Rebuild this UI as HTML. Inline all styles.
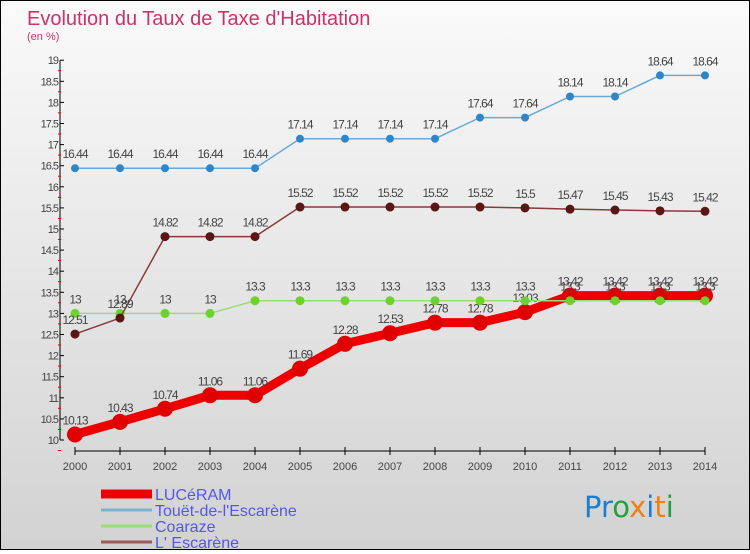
<!DOCTYPE html>
<html><head><meta charset="utf-8"><style>
html,body{margin:0;padding:0}
body{width:750px;height:550px;overflow:hidden;font-family:"Liberation Sans","DejaVu Sans",sans-serif}
#wrap{position:absolute;left:0;top:0;width:748px;height:548px;border:1px solid #000;background:linear-gradient(#fafafa,#d2d2d2)}
</style></head><body>
<div id="wrap">
<svg id="chart" width="748" height="548" xmlns="http://www.w3.org/2000/svg">
<text x="26" y="24" font-size="20" fill="#c8336a" font-family="Liberation Sans, sans-serif">Evolution du Taux de Taxe d'Habitation</text>
<text x="26" y="39" font-size="11" fill="#c8336a">(en %)</text>
<g id="axes"></g><g id="series"></g><g id="legend"></g>
<text x="583" y="516" font-size="29" font-family="DejaVu Sans, sans-serif"><tspan fill="#1a7fd0">Pr</tspan><tspan fill="#22a040">o</tspan><tspan fill="#f08010">x</tspan><tspan fill="#1a7fd0">i</tspan><tspan fill="#f08010">t</tspan><tspan fill="#22a040">i</tspan></text>
</svg></div>
<script>
const years=[2000,2001,2002,2003,2004,2005,2006,2007,2008,2009,2010,2011,2012,2013,2014];
const luceram=[10.13,10.43,10.74,11.06,11.06,11.69,12.28,12.53,12.78,12.78,13.03,13.42,13.42,13.42,13.42];
const touet=[16.44,16.44,16.44,16.44,16.44,17.14,17.14,17.14,17.14,17.64,17.64,18.14,18.14,18.64,18.64];
const coaraze=[13,13,13,13,13.3,13.3,13.3,13.3,13.3,13.3,13.3,13.3,13.3,13.3,13.3];
const escarene=[12.51,12.89,14.82,14.82,14.82,15.52,15.52,15.52,15.52,15.52,15.5,15.47,15.45,15.43,15.42];
const yTicks=[10,10.5,11,11.5,12,12.5,13,13.5,14,14.5,15,15.5,16,16.5,17,17.5,18,18.5,19];
const NS="http://www.w3.org/2000/svg";
const xS=y=>74+(y-years[0])*45;
const yS=v=>439-(v-10)*42.2;
function mk(t,a,p){const e=document.createElementNS(NS,t);for(const k in a)e.setAttribute(k,a[k]);p.appendChild(e);return e;}
const ax=document.getElementById('axes');
const yl=mk('line',{x1:59,y1:yS(19),x2:59,y2:yS(10),stroke:'#000'},ax);


yTicks.forEach(v=>{
 const y=yS(v);
 mk('line',{x1:59,y1:y,x2:63,y2:y,stroke:'#000'},ax);
 mk('line',{x1:57,y1:y+10.5,x2:60,y2:y+10.5,stroke:'#e00'},ax);
 const t=mk('text',{x:57,y:y+4,'font-size':11,fill:'#444','text-anchor':'end','letter-spacing':'-1'},ax);t.textContent=v;
 
 
});
const xl=mk('line',{x1:xS(2000),y1:450,x2:xS(2014),y2:450,stroke:'#000'},ax);


years.forEach(yr=>{
 const x=xS(yr);
 mk('line',{x1:x,y1:446,x2:x,y2:454,stroke:'#000'},ax);
 const t=mk('text',{x:x,y:469,'font-size':11,fill:'#444','text-anchor':'middle'},ax);t.textContent=yr;
 
 
});
const sg=document.getElementById('series');
function series(data,name,color,dot,w,r){
 const g=mk('g',{},sg);
 
 
 mk('polyline',{points:data.map((v,i)=>xS(years[i])+','+yS(v)).join(' '),fill:'none',stroke:color,'stroke-width':w},g);
 data.forEach((v,i)=>{
  const c=mk('circle',{cx:xS(years[i]),cy:yS(v),r:r,fill:dot},g);
  
  
  const t=mk('text',{x:xS(years[i]),y:yS(v)-10,'font-size':12,fill:'#444','text-anchor':'middle','letter-spacing':'-1'},g);t.textContent=v;
  
  
 });
}
series(luceram,'luceram','#ee0000','#e00000',9,8);
series(touet,'touet','#6aaad8','#2e86c8',1.5,4);
series(coaraze,'coaraze','#99dd77','#6cd22c',1.5,4.5);
series(escarene,'escarene','#883a3a','#5a1515',1.5,4.5);
const lg=document.getElementById('legend');
[['LUCéRAM','#ee0000',9],['Touët-de-l\'Escarène','#7ab0d0',3],['Coaraze','#99dd77',3],['L\' Escarène','#9a5a5a',3]].forEach((d,i)=>{
 const y=493+i*16;
 mk('line',{x1:100,y1:y,x2:151,y2:y,stroke:d[1],'stroke-width':d[2]},lg);
 const t=mk('text',{x:154,y:y+6,'font-size':16,fill:'#5555ee'},lg);t.textContent=d[0];
 
 
});
</script>
</body></html>
